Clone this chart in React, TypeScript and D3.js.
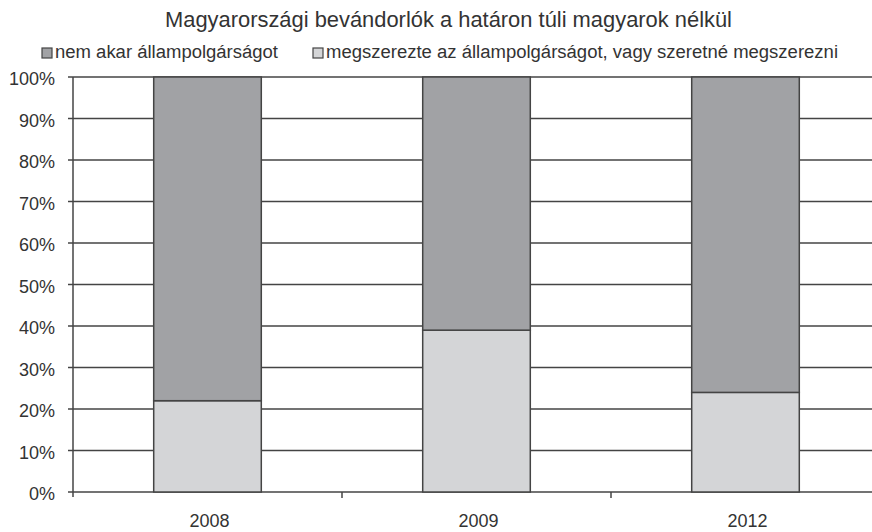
import React from "react";
import * as d3 from "d3";

const categories = ["2008", "2009", "2012"];
const acquired = [22, 39, 24];
const notWanting = [78, 61, 76];
const yTicks = [0, 10, 20, 30, 40, 50, 60, 70, 80, 90, 100];
const seriesNames = ["nem akar állampolgárságot", "megszerezte az állampolgárságot, vagy szeretné megszerezni"];
const title = "Magyarországi bevándorlók a határon túli magyarok nélkül";

const W = 872, H = 532;
const left = 73, right = 880, top = 77, bottom = 492;
const DARK = "#a1a2a5", LIGHT = "#d4d5d7", LINE = "#444", TEXT = "#333";
const FONT = "'Liberation Sans', Arial, sans-serif";

export default function App() {
  const x = d3.scaleBand().domain(categories).range([left, right]).paddingInner(0.6).paddingOuter(0.3);
  const xOuter = d3.scaleBand().domain(categories).range([left, right]);
  const y = d3.scaleLinear().domain([0, 100]).range([bottom, top]);
  const stacked = d3.stack<any>().keys(["a", "n"])(categories.map((c, i) => ({ c, a: acquired[i], n: notWanting[i] })));
  const colors = [LIGHT, DARK];
  return (
    <svg width={W} height={H} style={{ position: "absolute", left: 0, top: 0, background: "#fff" }}>
      <text x={165} y={27} textLength={567} lengthAdjust="spacingAndGlyphs" fontFamily={FONT} fontSize={22} fill={TEXT}>{title}</text>
      <g fontFamily={FONT} fontSize={18} fill={TEXT}>
        <rect x={42} y={48} width={10} height={10} fill={DARK} stroke={LINE} strokeWidth={1.2} />
        <text x={55} y={58} textLength={223} lengthAdjust="spacingAndGlyphs">{seriesNames[0]}</text>
        <rect x={313} y={48} width={10} height={10} fill={LIGHT} stroke={LINE} strokeWidth={1.2} />
        <text x={326} y={58} textLength={512} lengthAdjust="spacingAndGlyphs">{seriesNames[1]}</text>
      </g>
      {yTicks.map(t => (
        <g key={t}>
          <line x1={left} x2={W} y1={y(t)} y2={y(t)} stroke={LINE} strokeWidth={1.5} />
          <line x1={left - 5} x2={left} y1={y(t)} y2={y(t)} stroke={LINE} strokeWidth={1.5} />
          <text x={55} y={y(t) + 8} textAnchor="end" fontFamily={FONT} fontSize={18} fill={TEXT}>{t}%</text>
        </g>
      ))}
      {stacked.map((s, si) => s.map((d, i) => (
        <rect key={si + "-" + i} x={x(categories[i])!} width={x.bandwidth()} y={y(d[1])} height={y(d[0]) - y(d[1])}
          fill={colors[si]} stroke={LINE} strokeWidth={1.5} />
      )))}
      <line x1={left} x2={left} y1={top} y2={bottom + 5} stroke={LINE} strokeWidth={1.5} />
      {categories.map((c, i) => (
        <g key={c}>
          <line x1={xOuter(c)! + xOuter.bandwidth()} x2={xOuter(c)! + xOuter.bandwidth()} y1={bottom} y2={bottom + 6} stroke={LINE} strokeWidth={1.5} />
          <text x={x(c)! + x.bandwidth() / 2 + 2} y={527} textAnchor="middle" fontFamily={FONT} fontSize={18} fill={TEXT}>{c}</text>
        </g>
      ))}
    </svg>
  );
}
